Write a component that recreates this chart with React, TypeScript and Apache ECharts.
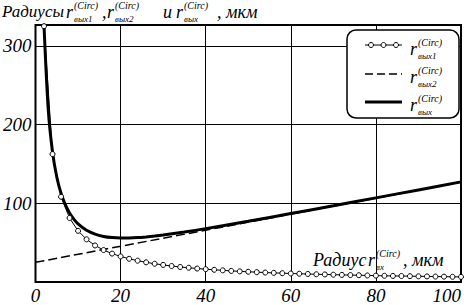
import React, { useEffect, useRef } from "react";
import * as echarts from "echarts";

const xTicks = ["0", "20", "40", "60", "80", "100"];
const yTicks = ["100", "200", "300"];

// r_вых1 (circles)
const r1X = [2, 4, 6, 8, 10, 12, 14, 16, 18, 20, 22, 24, 26, 28, 30, 32, 34, 36, 38, 40, 42, 44, 46, 48, 50, 52, 54, 56, 58, 60, 62, 64, 66, 68, 70, 72, 74, 76, 78, 80, 82, 84, 86, 88, 90, 92, 94, 96, 98, 100];
const r1Y = [325, 162.5, 108.3, 81.3, 65, 54.2, 46.4, 40.6, 36.1, 32.5, 29.5, 27.1, 25, 23.2, 21.7, 20.3, 19.1, 18.1, 17.1, 16.3, 15.5, 14.8, 14.1, 13.5, 13, 12.5, 12, 11.6, 11.2, 10.8, 10.5, 10.2, 9.8, 9.6, 9.3, 9, 8.8, 8.6, 8.3, 8.1, 7.9, 7.7, 7.6, 7.4, 7.2, 7.1, 6.9, 6.8, 6.6, 6.5];

// r_вых2 (dashed)
const r2X = [0, 100];
const r2Y = [25, 127];

// r_вых (thick solid)
const rX = [2, 3, 4, 5, 6, 7, 8, 9, 10, 12, 14, 16, 18, 20, 22, 24, 26, 28, 30, 35, 40, 50, 60, 70, 80, 90, 100];
const rY = [326.1, 218.5, 165.1, 133.4, 112.7, 98.3, 87.8, 79.9, 73.9, 65.7, 60.8, 57.9, 56.4, 55.8, 55.9, 56.4, 57.3, 58.4, 59.7, 63.5, 67.8, 77.1, 86.9, 96.8, 106.9, 117.0, 127.2];

const FONT = "Liberation Serif";

const zip = (xs: number[], ys: number[]) => xs.map((x, i) => [x, ys[i]]);

function txt(text: string, x: number, y: number, size: number) {
  return {
    type: "text",
    x,
    y,
    z: 110,
    style: {
      text,
      fontFamily: FONT,
      fontStyle: "italic",
      fontSize: size,
      fill: "#000",
      align: "left",
      verticalAlign: "middle",
    },
  };
}

// r with stacked superscript and subscript
function rSym(x: number, cy: number, sub: string, size: number, small: number) {
  return [
    txt("r", x, cy, size),
    txt("(Circ)", x + 8, cy - 7, small),
    txt(sub, x + 8, cy + 7, small - 1),
  ];
}

export default function App() {
  const ref = useRef<HTMLDivElement>(null);

  useEffect(() => {
    if (!ref.current) return;
    const chart = echarts.init(ref.current, undefined, { renderer: "svg" });

    const graphic: any[] = [
      // title
      txt("Радиусы", 2, 11, 17),
      ...rSym(66, 12, "вых1", 18, 10),
      txt(",", 102, 12, 18),
      ...rSym(107, 12, "вых2", 18, 10),
      txt("и", 163, 12, 18),
      ...rSym(176, 12, "вых", 18, 10),
      txt(", мкм", 217, 12, 18),
      // x axis name
      txt("Радиус", 313, 260, 18),
      ...rSym(368, 260, "вх", 18, 10),
      txt(", мкм", 403, 260, 18),
      // legend box
      {
        type: "rect",
        z: 100,
        shape: { x: 347, y: 30, width: 112, height: 88, r: 9 },
        style: { fill: "#fff", stroke: "#000", lineWidth: 1.5 },
      },
      {
        type: "line",
        z: 105,
        shape: { x1: 365, y1: 45, x2: 402, y2: 45 },
        style: { stroke: "#000", lineWidth: 1 },
      },
      ...[371, 383.5, 396].map((cx) => ({
        type: "circle",
        z: 106,
        shape: { cx, cy: 45, r: 2.5 },
        style: { fill: "#fff", stroke: "#000", lineWidth: 1 },
      })),
      {
        type: "line",
        z: 105,
        shape: { x1: 365, y1: 74, x2: 402, y2: 74 },
        style: { stroke: "#000", lineWidth: 1.5, lineDash: [8, 4] },
      },
      {
        type: "line",
        z: 105,
        shape: { x1: 365, y1: 102, x2: 402, y2: 102 },
        style: { stroke: "#000", lineWidth: 3 },
      },
      ...rSym(410, 49, "вых1", 18, 10),
      ...rSym(410, 77, "вых2", 18, 10),
      ...rSym(410, 105, "вых", 18, 10),
    ];

    chart.setOption({
      animation: false,
      backgroundColor: "#fff",
      grid: {
        left: 34,
        top: 25,
        width: 427,
        height: 259,
        show: true,
        borderColor: "#000",
        borderWidth: 2,
        backgroundColor: "transparent",
      },
      xAxis: {
        type: "value",
        min: 0,
        max: 100,
        interval: 20,
        axisLine: { show: false },
        axisTick: { show: false },
        splitLine: { show: true, lineStyle: { color: "#000", width: 1 } },
        axisLabel: {
          color: "#000",
          fontFamily: FONT,
          fontStyle: "italic",
          fontSize: 19,
          margin: 4,
          alignMaxLabel: "right",
          formatter: (v: number) => xTicks[Math.round(v / 20)] ?? "",
        },
      },
      yAxis: {
        type: "value",
        min: 0,
        max: 326.5,
        interval: 100,
        axisLine: { show: false },
        axisTick: { show: false },
        splitLine: { show: true, lineStyle: { color: "#000", width: 1 } },
        axisLabel: {
          color: "#000",
          fontFamily: FONT,
          fontStyle: "italic",
          fontSize: 19,
          margin: 4,
          showMinLabel: false,
          showMaxLabel: false,
          formatter: (v: number) => yTicks[Math.round(v / 100) - 1] ?? "",
        },
      },
      series: [
        {
          name: "r2",
          type: "line",
          data: zip(r2X, r2Y),
          showSymbol: false,
          lineStyle: { color: "#000", width: 1.5, type: [9, 4] },
          z: 2,
        },
        {
          name: "r",
          type: "line",
          data: zip(rX, rY),
          showSymbol: false,
          smooth: 0.3,
          lineStyle: { color: "#000", width: 3 },
          z: 3,
        },
        {
          name: "r1",
          type: "line",
          data: zip(r1X, r1Y),
          symbol: "circle",
          symbolSize: 5,
          itemStyle: { color: "#fff", borderColor: "#000", borderWidth: 1 },
          lineStyle: { color: "#000", width: 1 },
          z: 4,
        },
      ],
      graphic,
    });

    return () => chart.dispose();
  }, []);

  return <div ref={ref} style={{ width: 464, height: 305, position: "absolute", left: 0, top: 0 }} />;
}
